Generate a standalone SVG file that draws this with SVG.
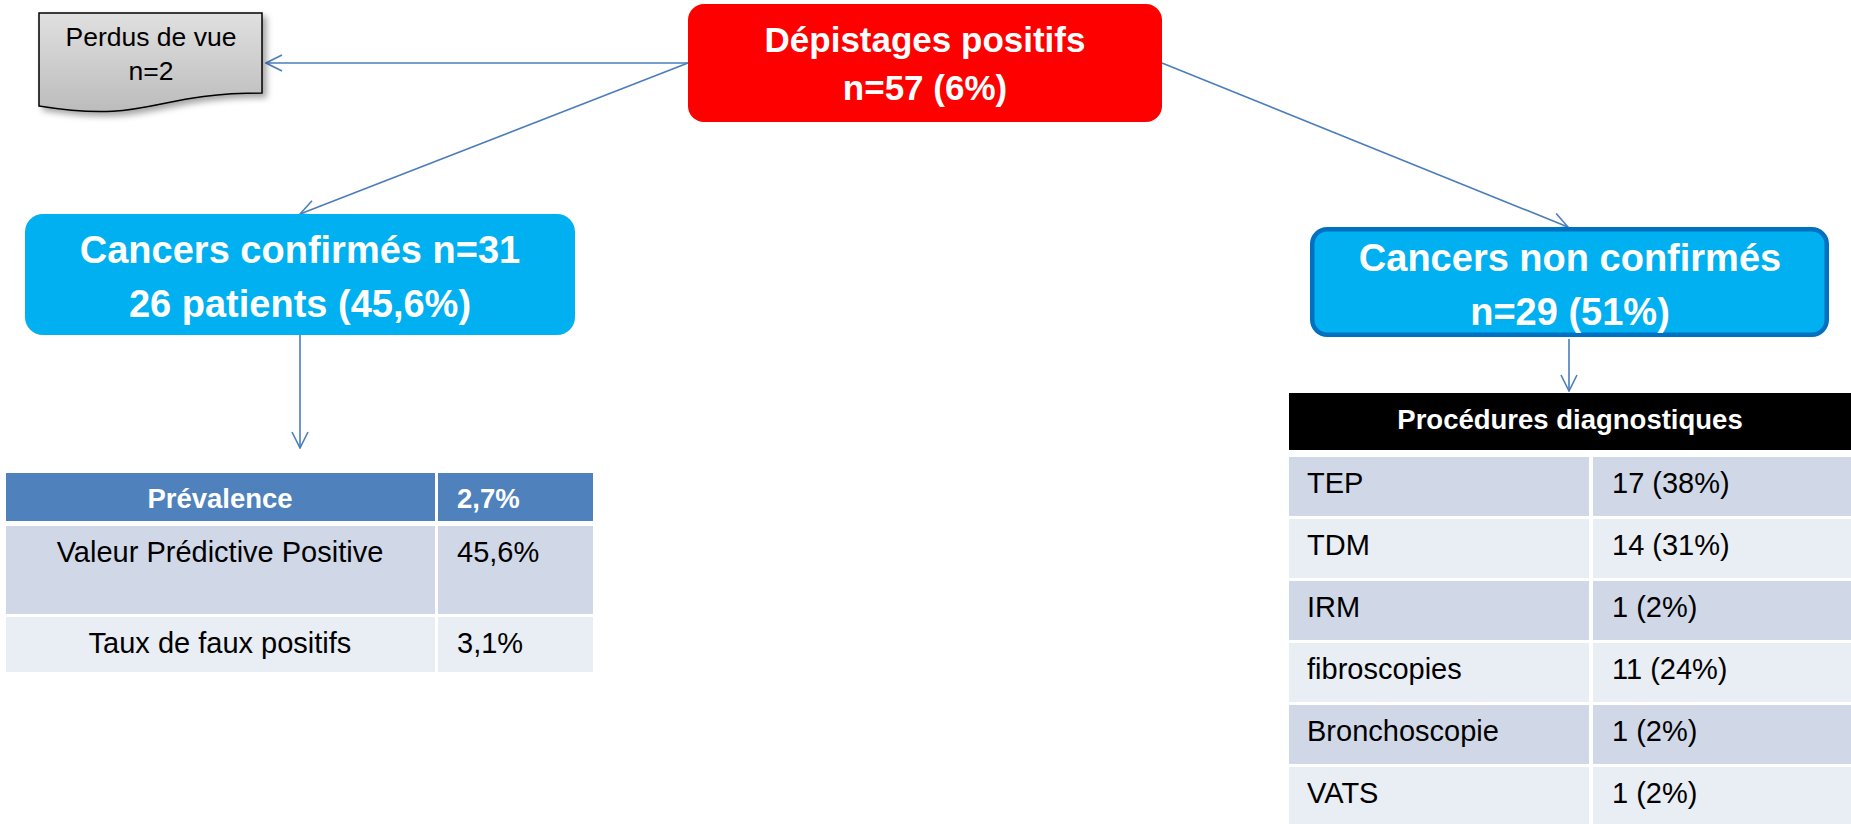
<svg xmlns="http://www.w3.org/2000/svg" width="1851" height="824" viewBox="0 0 1851 824">
<style>
.bt{font-family:"Liberation Sans",Arial,sans-serif;font-weight:bold;fill:#fff;text-anchor:middle}
.t{font-family:"Liberation Sans",Arial,sans-serif;font-size:29px;fill:#000}
.tp{font-family:"Liberation Sans",Arial,sans-serif;font-size:26.5px;fill:#000;text-anchor:middle}
.tb{font-family:"Liberation Sans",Arial,sans-serif;font-size:27.5px;font-weight:bold;fill:#fff}
.c{text-anchor:middle}
.conn{stroke:#4a7ebb;stroke-width:1.6;fill:none;marker-end:url(#arr)}
.h1{fill:#4f81bd}.r1{fill:#d0d8e8}.r2{fill:#e9edf4}
</style>
<defs>
<marker id="arr" markerUnits="userSpaceOnUse" viewBox="0 0 18 18" refX="17" refY="9" markerWidth="18" markerHeight="18" orient="auto">
<path d="M1,1 L17,9 L1,17" fill="none" stroke="#4a7ebb" stroke-width="1.6"/>
</marker>
<linearGradient id="gray" x1="0" y1="0" x2="0" y2="1">
<stop offset="0" stop-color="#e0e0e0"/><stop offset="1" stop-color="#bcbcbc"/>
</linearGradient>
<filter id="sh" x="-20%" y="-20%" width="150%" height="160%">
<feDropShadow dx="4" dy="4" stdDeviation="3" flood-color="#000" flood-opacity="0.35"/>
</filter>
</defs>
<rect width="1851" height="824" fill="#fff"/>
<g id="connectors">
<line class="conn" x1="688" y1="63" x2="266" y2="63"/>
<line class="conn" x1="688" y1="63" x2="300" y2="214"/>
<line class="conn" x1="1162" y1="63" x2="1568" y2="227"/>
<line class="conn" x1="300" y1="335" x2="300" y2="448"/>
<line class="conn" x1="1569" y1="339" x2="1569" y2="391"/>
</g>
<g id="perdus">
<path d="M39,13 H262 V93 C150.5,93 150.5,124 39,106 Z" fill="url(#gray)" stroke="#000" stroke-width="1.5" filter="url(#sh)"/>
<text class="tp" x="151" y="46">Perdus de vue</text>
<text class="tp" x="151" y="80">n=2</text>
</g>
<g id="depistages">
<rect x="688" y="4" width="474" height="118" rx="16" fill="#ff0000"/>
<text class="bt" x="925" y="52" font-size="35">Dépistages positifs</text>
<text class="bt" x="925" y="100" font-size="35">n=57 (6%)</text>
</g>
<g id="confirmes">
<rect x="25" y="214" width="550" height="121" rx="18" fill="#00b0f0"/>
<text class="bt" x="300" y="263" font-size="38">Cancers confirmés n=31</text>
<text class="bt" x="300" y="317" font-size="38">26 patients (45,6%)</text>
</g>
<g id="non-confirmes">
<rect x="1312.25" y="229.25" width="514.5" height="105.5" rx="15" fill="#00b0f0" stroke="#0070c0" stroke-width="4.5"/>
<text class="bt" x="1570" y="271" font-size="38">Cancers non confirmés</text>
<text class="bt" x="1570" y="325" font-size="38">n=29 (51%)</text>
</g>
<g id="table-prevalence">
<rect class="h1" x="6" y="473" width="429" height="48"/>
<rect class="h1" x="438" y="473" width="155" height="48"/>
<rect class="r1" x="6" y="526" width="429" height="88"/>
<rect class="r1" x="438" y="526" width="155" height="88"/>
<rect class="r2" x="6" y="617" width="429" height="55"/>
<rect class="r2" x="438" y="617" width="155" height="55"/>
<text class="tb c" x="220" y="508">Prévalence</text>
<text class="tb" x="457" y="508">2,7%</text>
<text class="t c" x="220" y="562">Valeur Prédictive Positive</text>
<text class="t" x="457" y="562">45,6%</text>
<text class="t c" x="220" y="653">Taux de faux positifs</text>
<text class="t" x="457" y="653">3,1%</text>
</g>
<g id="table-procedures">
<rect x="1289" y="393" width="562" height="57" fill="#000"/>
<text class="tb c" x="1570" y="429">Procédures diagnostiques</text>
<rect class="r1" x="1289" y="457" width="300" height="59"/><rect class="r1" x="1593" y="457" width="258" height="59"/>
<rect class="r2" x="1289" y="519" width="300" height="59"/><rect class="r2" x="1593" y="519" width="258" height="59"/>
<rect class="r1" x="1289" y="581" width="300" height="59"/><rect class="r1" x="1593" y="581" width="258" height="59"/>
<rect class="r2" x="1289" y="643" width="300" height="59"/><rect class="r2" x="1593" y="643" width="258" height="59"/>
<rect class="r1" x="1289" y="705" width="300" height="59"/><rect class="r1" x="1593" y="705" width="258" height="59"/>
<rect class="r2" x="1289" y="767" width="300" height="57"/><rect class="r2" x="1593" y="767" width="258" height="57"/>
<text class="t" x="1307" y="493">TEP</text><text class="t" x="1612" y="493">17 (38%)</text>
<text class="t" x="1307" y="555">TDM</text><text class="t" x="1612" y="555">14 (31%)</text>
<text class="t" x="1307" y="617">IRM</text><text class="t" x="1612" y="617">1 (2%)</text>
<text class="t" x="1307" y="679">fibroscopies</text><text class="t" x="1612" y="679">11 (24%)</text>
<text class="t" x="1307" y="741">Bronchoscopie</text><text class="t" x="1612" y="741">1 (2%)</text>
<text class="t" x="1307" y="803">VATS</text><text class="t" x="1612" y="803">1 (2%)</text>
</g>
</svg>
